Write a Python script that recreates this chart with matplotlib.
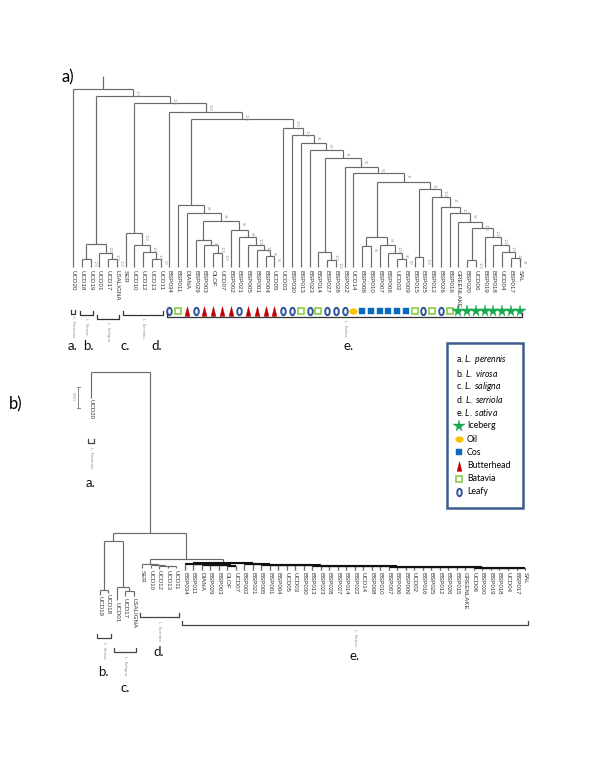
import matplotlib
matplotlib.use('Agg')
import matplotlib.pyplot as plt
from matplotlib.path import Path
from matplotlib.transforms import Affine2D
from matplotlib.patches import Rectangle

plt.rcParams['font.family'] = ['Lato', 'DejaVu Sans']
plt.rcParams['mathtext.fontset'] = 'custom'
plt.rcParams['mathtext.rm'] = 'Lato'
plt.rcParams['mathtext.it'] = 'Lato:italic'

# ---------------- data ----------------
# a) bootstrap consensus tree, leaves left to right
wild_leaves = ['UCD20', 'UCD18', 'UCD19', 'UCD01', 'UCD17', 'LSALIGNA',
               'SER', 'UCD10', 'UCD12', 'UCD13', 'UCD11']
sativa_leaves = ['BSP034', 'BSP011', 'DIANA', 'BSP029', 'BSP003', 'OLOF', 'UCD07',
                 'BSP002', 'BSP021', 'BSP005', 'BSP001', 'BSP004', 'UCD05', 'UCD03',
                 'BSP030', 'BSP013', 'BSP023', 'BSP014', 'BSP027', 'BSP028', 'BSP022',
                 'UCD14', 'BSP008', 'BSP010', 'BSP007', 'BSP006', 'UCD02', 'BSP009',
                 'BSP015', 'BSP025', 'BSP012', 'BSP026', 'BSP016', 'GREENLAKE',
                 'BSP020', 'UCD06', 'BSP019', 'BSP018', 'UCD04', 'BSP017', 'SAL']
sativa_types = ['Leafy', 'Batavia', 'Butterhead', 'Leafy', 'Butterhead', 'Butterhead', 'Butterhead',
                'Butterhead', 'Leafy', 'Butterhead', 'Butterhead', 'Butterhead', 'Butterhead', 'Leafy',
                'Leafy', 'Batavia', 'Leafy', 'Batavia', 'Leafy', 'Leafy', 'Leafy',
                'Oil', 'Cos', 'Cos', 'Cos', 'Cos', 'Cos', 'Cos',
                'Batavia', 'Leafy', 'Batavia', 'Leafy', 'Batavia', 'Iceberg',
                'Iceberg', 'Iceberg', 'Iceberg', 'Iceberg', 'Iceberg', 'Iceberg', 'Iceberg']

# node = [height, bootstrap, left, right]
clade_bc = [23, 100, [8, 100, 'UCD18', 'UCD19'], [14, 100, 'UCD01', [8, 100, 'UCD17', 'LSALIGNA']]]
clade_d = [34, 100, 'SER', [22, 100, 'UCD10', [15, 100, 'UCD12', [8, 50, 'UCD13', 'UCD11']]]]
clade_butter = [62, 89, 'BSP011',
                [54, 94, 'DIANA',
                 [46, 85,
                  [27, 81, 'BSP029', [22, 100, 'BSP003', [14, 100, 'OLOF', 'UCD07']]],
                  [37, 95, 'BSP002',
                   [30, 100, 'BSP021',
                    [22, 100, 'BSP005',
                     [17, 86, 'BSP001', [11, 52, 'BSP004', 'UCD05']]]]]]]]
clade_iceberg = [39, 100, [7, 100, 'BSP020', 'UCD06'],
                 [30, 100, 'BSP019',
                  [22, 100, 'BSP018',
                   [15, 100, 'UCD04', [9, 87, 'BSP017', 'SAL']]]]]
clade_mixed = [78, 100, [10, 100, 'BSP015', 'BSP025'],
               [70, 74, 'BSP012',
                [60, 100, 'BSP026',
                 [54, 88, 'BSP016',
                  [45, 100, 'GREENLAKE', clade_iceberg]]]]]
clade_cos = [30, 58, [21, 65, 'BSP008', 'BSP010'],
             [22, 100, 'BSP007', [14, 90, 'BSP006', [8, 80, 'UCD02', 'BSP009']]]]
clade_upper = [109, 62, [15, 100, 'BSP014', [7, 100, 'BSP027', 'BSP028']],
               [100, 52, 'BSP022',
                [94, 72, 'UCD14', [85, 72, clade_cos, clade_mixed]]]]
clade_rest = [139, 100, 'UCD03',
              [132, 96, 'BSP030',
               [124, 80, 'BSP013',
                [117, 78, 'BSP023', clade_upper]]]]
top_tree = [178, 100, 'UCD20',
            [171, 100, clade_bc,
             [164, 100, clade_d,
              [155, 100, 'BSP034',
               [148, 100, clade_butter, clade_rest]]]]]

# b) distance tree, leaves left to right
b_wild_leaves = ['UCD20', 'UCD19', 'UCD18', 'UCD01', 'UCD17', 'LSALIGNA',
                 'SER', 'UCD10', 'UCD12', 'UCD13', 'UCD11']
b_sativa_left = ['BSP034', 'BSP011', 'DIANA', 'BSP029', 'BSP003', 'OLOF', 'UCD07']
b_sativa_right = ['BSP002', 'BSP021', 'BSP005', 'BSP001', 'BSP004', 'UCD05', 'UCD03',
                  'BSP030', 'BSP013', 'BSP023', 'BSP028', 'BSP027', 'BSP014', 'BSP022',
                  'UCD14', 'BSP008', 'BSP010', 'BSP007', 'BSP006', 'BSP009', 'UCD02',
                  'BSP016', 'BSP025', 'BSP012', 'BSP026', 'BSP015', 'GREENLAKE', 'UCD06',
                  'BSP020', 'BSP019', 'BSP018', 'UCD04', 'BSP017', 'SAL']
b_left_depths = [192, 192, 193, 193, 193, 194]
b_right_depths = [192, 192, 193, 193, 193, 193, 193, 193, 194, 194, 194,
                  194, 194, 194, 194, 194, 194, 195, 195, 195, 195, 195,
                  195, 195, 195, 195, 195, 196, 196, 196, 196, 196, 196]
b_wild_tips = {'UCD20': 26, 'UCD19': 223, 'UCD18': 221, 'UCD01': 228, 'UCD17': 224,
               'LSALIGNA': 224, 'SER': 196, 'UCD10': 196, 'UCD12': 197, 'UCD13': 196,
               'UCD11': 196}
b_sativa_tip = 198

legend_species = ['a. $\\mathit{L.\\ perennis}$', 'b. $\\mathit{L.\\ virosa}$',
                  'c. $\\mathit{L.\\ saligna}$', 'd. $\\mathit{L.\\ serriola}$',
                  'e. $\\mathit{L.\\ sativa}$']
legend_types = ['Iceberg', 'Oil', 'Cos', 'Butterhead', 'Batavia', 'Leafy']

groups = [('a.', 'L. Perennis', ['UCD20']),
          ('b.', 'L. Virosa', ['UCD18', 'UCD19']),
          ('c.', 'L. Saligna', ['UCD01', 'UCD17', 'LSALIGNA']),
          ('d.', 'L. Serriola', ['SER', 'UCD10', 'UCD12', 'UCD13', 'UCD11']),
          ('e.', 'L. Sativa', sativa_leaves)]

# ---------------- styles ----------------
ellipse = Path.unit_circle().transformed(Affine2D().scale(0.62, 1.0))
flat_ellipse = Path.unit_circle().transformed(Affine2D().scale(1.0, 0.75))
tall_tri = Path([(-0.5, -1), (0.5, -1), (0, 1), (-0.5, -1)],
                [Path.MOVETO, Path.LINETO, Path.LINETO, Path.CLOSEPOLY])
type_style = {
    'Iceberg': dict(marker='*', ms=8.5, mfc='#17a94f', mec='#17a94f', mew=0.3),
    'Oil': dict(marker=flat_ellipse, ms=5.5, mfc='#ffc000', mec='#ffc000', mew=0.3),
    'Cos': dict(marker='s', ms=4.3, mfc='#0a6abf', mec='#0a6abf', mew=0.3),
    'Butterhead': dict(marker=tall_tri, ms=7, mfc='#c00000', mec='#c00000', mew=0.3),
    'Batavia': dict(marker='s', ms=5, mfc='white', mec='#92d050', mew=1.3),
    'Leafy': dict(marker=ellipse, ms=5.3, mfc='white', mec='#2f5597', mew=1.4),
}
line_kw = dict(color='#6a6a6a', lw=0.85, solid_capstyle='butt')
sativa_kw = dict(color='#111111', lw=1.5, solid_capstyle='butt')
W, H = 600, 776

fig = plt.figure(figsize=(6, 7.76), dpi=100)


def leaf_axes(x0, dx, y0, up):
    ax = fig.add_axes([0, 0, 1, 1])
    ax.set_xlim(-x0 / dx, (W - x0) / dx)
    if up:
        ax.set_ylim(y0 - H, y0)
    else:
        ax.set_ylim(H - y0, -y0)
    ax.axis('off')
    ax.patch.set_alpha(0)
    return ax


def draw_tree(ax, node, xpos, tip, sup_dir=None, kw=line_kw):
    if isinstance(node, str):
        return xpos[node], tip(node)
    y, sup, left, right = node
    xl, yl = draw_tree(ax, left, xpos, tip, sup_dir, kw)
    xr, yr = draw_tree(ax, right, xpos, tip, sup_dir, kw)
    ax.plot([xl, xr], [y, y], **kw)
    ax.plot([xl, xl], [y, yl], **(line_kw if isinstance(left, str) else kw))
    ax.plot([xr, xr], [y, yr], **(line_kw if isinstance(right, str) else kw))
    if sup is not None and sup_dir is not None:
        ax.text(xr + 0.2, y + sup_dir, str(sup), rotation=270, fontsize=2.6,
                color='#9a9a9a', ha='left', va='top', family='DejaVu Sans')
    return (xl + xr) / 2, y


def ladder(leaves, depths):
    node = leaves[-1]
    for leaf, d in zip(leaves[-2::-1], depths[::-1]):
        node = [d, None, leaf, node]
    return node


# ---------------- a) ----------------
ax_t = leaf_axes(73, 8.76, 267, True)
top_order = wild_leaves + sativa_leaves
xpos_t = {n: i for i, n in enumerate(top_order)}
x, y = draw_tree(ax_t, top_tree, xpos_t, lambda n: 0, sup_dir=-1.5)
ax_t.plot([x, x], [y, y + 13], **line_kw)
for n in top_order:
    ax_t.text(xpos_t[n], -2.5, n, rotation=270, ha='center', va='top',
              fontsize=4.5, family='Liberation Sans', color='#333333')
for n, t in zip(sativa_leaves, sativa_types):
    ax_t.plot(xpos_t[n], -44, ls='none', **type_style[t])

top_bracket_h = [-47, -48, -52, -48, -50]
top_letter_dx = [0, 0.3, 2.0, 1.5, 0.5]
for (letter, name, members), bh, ldx in zip(groups, top_bracket_h, top_letter_dx):
    xs = [xpos_t[m] for m in members]
    x0, x1 = min(xs) - 0.25, max(xs) + 0.25
    ax_t.plot([x0, x0, x1, x1], [bh + 4, bh, bh, bh + 4], color='#333333', lw=0.9)
    xc = (x0 + x1) / 2
    ax_t.text(xc, bh - 2.5, name, rotation=270, ha='center', va='top',
              fontsize=2.8, color='#8a8a8a', family='DejaVu Sans')
    ax_t.text(xc + ldx, -79, letter, ha='center', va='center', fontsize=9.5, color='#111111')

# ---------------- b) ----------------
ax_b = leaf_axes(91, 8.51, 372, False)
b_order = b_wild_leaves + b_sativa_left + b_sativa_right
xpos_b = {n: i for i, n in enumerate(b_order)}
b_sativa = [191, None, ladder(b_sativa_left, b_left_depths),
            ladder(b_sativa_right, b_right_depths)]
b_tree = [0, None, 'UCD20',
          [161, None,
           [169, None, [218, None, 'UCD19', 'UCD18'],
            [215, None, 'UCD01', [219, None, 'UCD17', 'LSALIGNA']]],
           [187, None,
            [192, None, 'SER', [193, None, 'UCD10', [194, None, 'UCD12', [194, None, 'UCD13', 'UCD11']]]],
            b_sativa]]]


def b_tip(n):
    return b_wild_tips.get(n, b_sativa_tip)


draw_tree(ax_b, b_tree, xpos_b, b_tip)
draw_tree(ax_b, b_sativa, xpos_b, b_tip, kw=sativa_kw)
for n in b_order:
    ax_b.text(xpos_b[n], b_tip(n) + 1.5, n, rotation=270, ha='center', va='top',
              fontsize=4.4, family='Liberation Sans', color='#333333')

b_groups = [('a.', 'L. Perennis', ['UCD20'], 71, 111),
            ('b.', 'L. Virosa', ['UCD19', 'UCD18'], 266, 300),
            ('c.', 'L. Saligna', ['UCD01', 'UCD17', 'LSALIGNA'], 280, 316),
            ('d.', 'L. Serriola', ['SER', 'UCD10', 'UCD12', 'UCD13', 'UCD11'], 245, 280),
            ('e.', 'L. Sativa', b_sativa_left + b_sativa_right, 253, 284)]
for letter, name, members, bd, ld in b_groups:
    xs = [xpos_b[m] for m in members]
    x0, x1 = min(xs) - 0.3, max(xs) + 0.3
    ax_b.plot([x0, x0, x1, x1], [bd - 4, bd, bd, bd - 4], color='#444444', lw=0.9)
    xc = (x0 + x1) / 2
    ax_b.text(xc, bd + 4, name, rotation=270, ha='center', va='top',
              fontsize=2.8, color='#8a8a8a', family='DejaVu Sans')
    ax_b.text(xc, ld, letter, ha='center', va='center', fontsize=9.5, color='#111111')

# ---------------- page elements ----------------
ax_p = fig.add_axes([0, 0, 1, 1])
ax_p.set_xlim(0, W)
ax_p.set_ylim(H, 0)
ax_p.axis('off')
ax_p.patch.set_alpha(0)
ax_p.text(62, 77, 'a)', fontsize=12, va='center', ha='left')
ax_p.text(9, 404, 'b)', fontsize=12, va='center', ha='left')
ax_p.plot([76.5, 79.5, 78, 78, 76.5, 79.5], [387, 387, 387, 408, 408, 408], color='#888888', lw=0.7)
ax_p.text(73, 397, '0.005', rotation=270, fontsize=2.6, color='#999999', ha='center', va='center')

ax_p.add_patch(Rectangle((446.5, 343), 76, 165, fill=False, ec='#3d5d8f', lw=1.8))
row = 0
for s in legend_species:
    ax_p.text(456, 360 + 13.2 * row, s, fontsize=6.3, va='center', ha='left')
    row += 1
for t in legend_types:
    yy = 360 + 13.2 * row
    ax_p.plot(459, yy, ls='none', **type_style[t])
    ax_p.text(467, yy, t, fontsize=6.3, va='center', ha='left')
    row += 1

fig.savefig('out.png', dpi=100, facecolor='white')
